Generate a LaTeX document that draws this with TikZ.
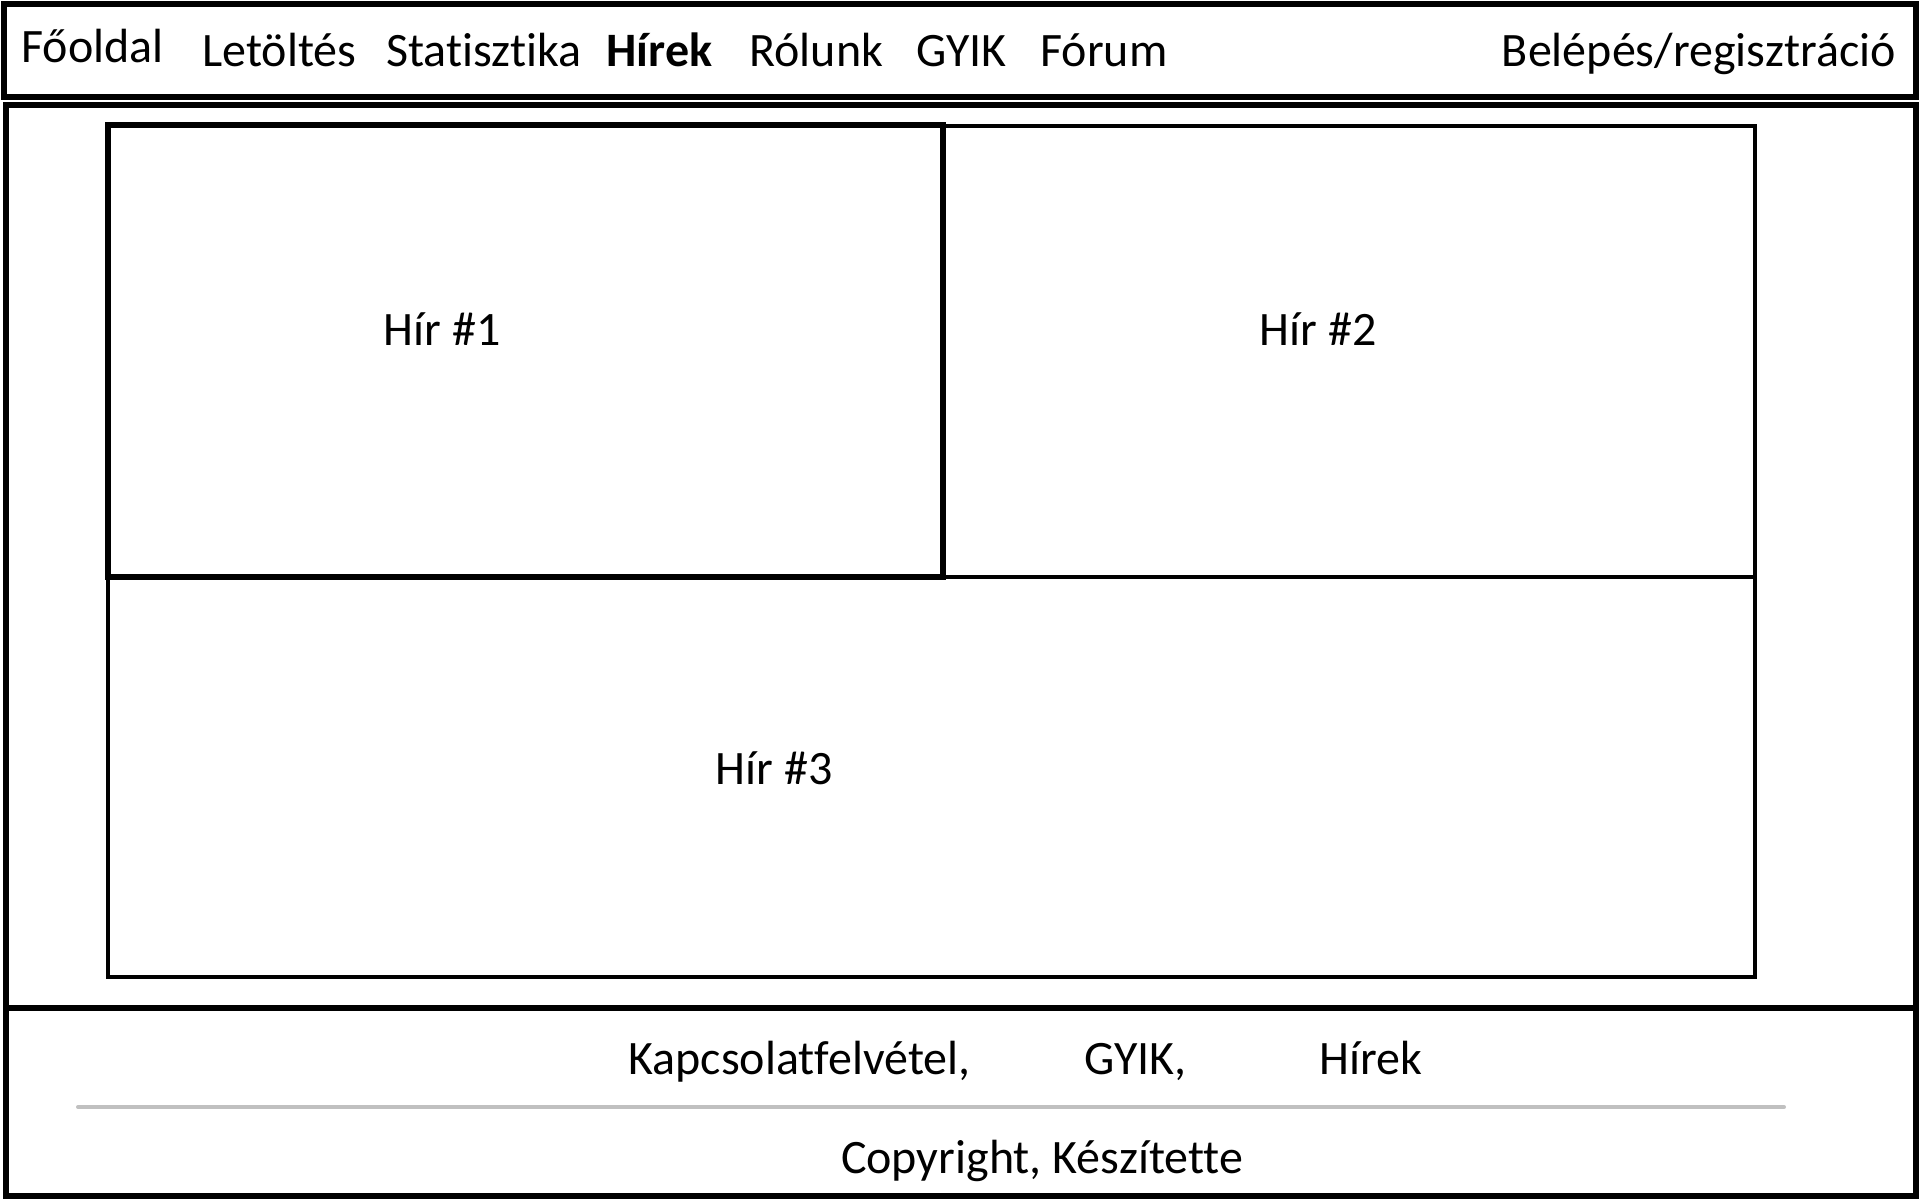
\documentclass[tikz,border=0pt]{standalone}
\usepackage{fontspec}
\setmainfont{Carlito}[Ligatures=NoCommon]
\usetikzlibrary{positioning}
\definecolor{sepgray}{HTML}{C0C0C0}

\begin{document}
\begin{tikzpicture}[x=0.5pt,y=-0.5pt,
  every node/.style={font=\fontsize{24}{29}\selectfont,inner sep=0pt},
  frame/.style={draw,line width=2.6pt},
  newsbox/.style={draw,line width=2pt},
  menuitem/.style={anchor=base west},
  caption/.style={anchor=base}
]
  \useasboundingbox (0,0) rectangle (1920,1200);
  % header, content, footer
  \draw[frame] (4,4) rectangle (1916,97);
  \draw[frame] (6,105) rectangle (1916,1008);
  \draw[frame] (6,1008) rectangle (1916,1196);
  % news boxes
  \draw[newsbox] (108,577) rectangle (1755,977);
  \draw[newsbox] (943,126) rectangle (1755,577);
  \draw[newsbox,line width=2.8pt] (108,125) rectangle (943,577);
  % menu
  \node[menuitem] (fooldal) at (21,62) {Főoldal};
  \node[menuitem] (letoltes) at (202,66) {Letöltés};
  \node[menuitem] (stat) at (386,66) {Statisztika};
  \node[menuitem,font=\fontsize{24}{29}\selectfont\bfseries] (hirek) at (606,66) {Hírek};
  \node[menuitem] (rolunk) at (749,66) {Rólunk};
  \node[menuitem] (gyik) at (916,66) {GYIK};
  \node[menuitem] (forum) at (1040,66) {Fórum};
  \node[anchor=base east] (belepes) at (1896,66) {Belépés/regisztráció};
  % news titles
  \node[caption] (hir1) at (442,345) {Hír \#1};
  \node[caption] (hir2) at (1318,345) {Hír \#2};
  \node[caption] (hir3) at (774,784) {Hír \#3};
  % footer
  \node[menuitem] (kapcs) at (628,1074) {Kapcsolatfelvétel,};
  \node[menuitem] (fgyik) at (1084,1074) {GYIK,};
  \node[menuitem] (fhirek) at (1319,1074) {Hírek};
  \coordinate (sepl) at (78,1107);
  \coordinate (sepr) at (1784,1107);
  \draw[sepgray,line width=2pt,line cap=round] (sepl) -- (sepr);
  \node[caption] (copy) at (1042,1173) {Copyright, Készítette};
\end{tikzpicture}
\end{document}
